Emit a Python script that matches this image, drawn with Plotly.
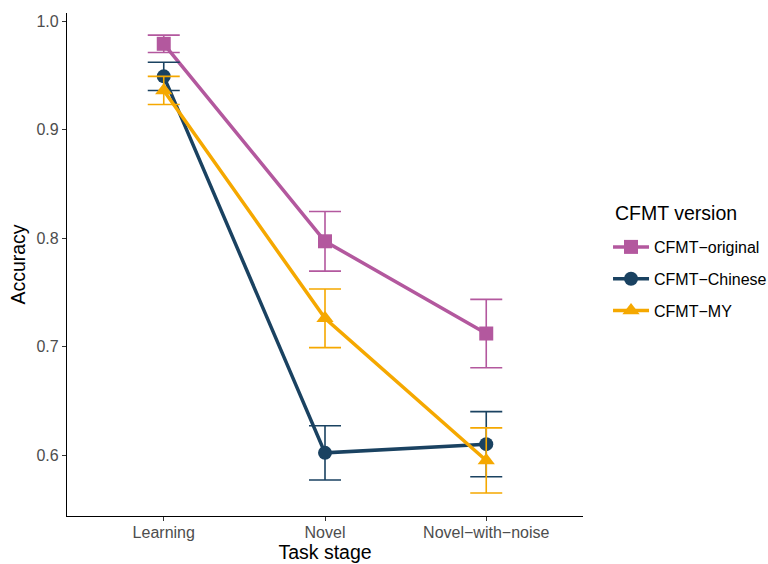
import plotly.graph_objects as go

# Task stages on the x axis
stages = ["Learning", "Novel", "Novel\u2212with\u2212noise"]

# Mean accuracy and standard error per CFMT version
original_mean = [0.979, 0.797, 0.712]
original_err = [0.008, 0.0275, 0.0315]

chinese_mean = [0.949, 0.602, 0.610]
chinese_err = [0.013, 0.025, 0.030]

my_mean = [0.936, 0.726, 0.595]
my_err = [0.013, 0.027, 0.030]

series = [
    ("CFMT\u2212original", original_mean, original_err, "#B3589E", "square"),
    ("CFMT\u2212Chinese", chinese_mean, chinese_err, "#1A4261", "circle"),
    ("CFMT\u2212MY", my_mean, my_err, "#F5A800", "triangle-up"),
]

fig = go.Figure()
for i, (name, mean, err, color, symbol) in enumerate(series):
    fig.add_trace(go.Scatter(
        x=stages,
        y=mean,
        name=name,
        legendgroup=name,
        mode="lines+markers",
        line=dict(color=color, width=3.5),
        marker=dict(color=color, symbol=symbol, size=14 if symbol != "triangle-up" else 15,
                    line=dict(width=0)),
        error_y=dict(type="data", array=err, visible=True, color=color,
                     thickness=1.6, width=16),
    ))

font_family = "Liberation Sans, Arial, sans-serif"

# Legend heading placed as its own text so the gap below it can be set freely
fig.add_annotation(
    text="CFMT version",
    xref="paper", yref="paper",
    x=1.058, y=0.6024,
    xanchor="left", yanchor="middle",
    showarrow=False,
    font=dict(size=19.5, color="black"),
)

fig.update_layout(
    width=768,
    height=564,
    paper_bgcolor="white",
    plot_bgcolor="white",
    margin=dict(l=67, r=185, t=13, b=48, autoexpand=False),
    font=dict(family=font_family, color="black"),
    xaxis=dict(
        type="category",
        range=[-0.6, 2.6],
        automargin=False,
        showgrid=False,
        zeroline=False,
        showline=True,
        linecolor="black",
        linewidth=1.2,
        ticks="outside",
        ticklen=4,
        tickcolor="#333333",
        ticklabelstandoff=-2,
        tickfont=dict(size=16, color="#4D4D4D"),
        title=dict(text="Task stage", font=dict(size=19.5, color="black"), standoff=3),
    ),
    yaxis=dict(
        range=[0.5438, 1.0074],
        automargin=False,
        tickvals=[0.6, 0.7, 0.8, 0.9, 1.0],
        ticktext=["0.6", "0.7", "0.8", "0.9", "1.0"],
        showgrid=False,
        zeroline=False,
        showline=True,
        linecolor="black",
        linewidth=1.2,
        ticks="outside",
        ticklen=4,
        tickcolor="#333333",
        tickfont=dict(size=16, color="#4D4D4D"),
        title=dict(text="Accuracy", font=dict(size=19.5, color="black"), standoff=5),
    ),
    showlegend=True,
    legend=dict(
        font=dict(size=16, color="black"),
        xref="container",
        x=0.7917,
        xanchor="left",
        y=0.5686,
        yanchor="top",
        traceorder="grouped",
        tracegroupgap=8,
        itemwidth=36,
        bgcolor="rgba(0,0,0,0)",
    ),
)

fig.write_html("out.html")
